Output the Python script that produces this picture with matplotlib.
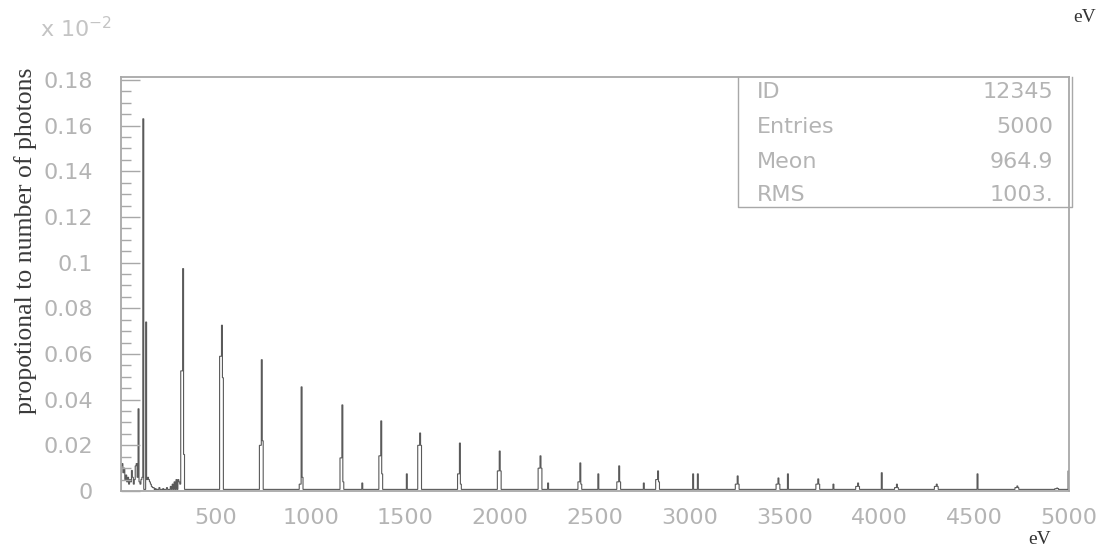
import numpy as np
import matplotlib.pyplot as plt
from matplotlib.ticker import MultipleLocator, FixedLocator, FuncFormatter

# Photon energy spectrum, 5 eV bins from 0 to 5000 eV
bin_width = 5
baseline = 0.0007

# low energy region, bin start energies and contents
low_ev = [0, 5, 10, 15, 20, 25, 30, 35, 40, 45, 50, 55, 60, 65, 70, 75, 80, 85, 95, 100, 105, 110]
low_val = [0.011, 0.012, 0.008, 0.010, 0.005, 0.007, 0.004, 0.006, 0.003, 0.005, 0.004, 0.009,
           0.006, 0.003, 0.005, 0.011, 0.012, 0.006, 0.004, 0.003, 0.005, 0.006]
tail_ev = [135, 140, 145, 150, 155, 160, 165, 170, 180, 200, 220, 240, 260, 270, 280, 290, 300, 305, 310]
tail_val = [0.005, 0.006, 0.005, 0.004, 0.003, 0.002, 0.0015, 0.0015, 0.001, 0.0015, 0.001,
            0.0015, 0.002, 0.003, 0.004, 0.005, 0.005, 0.004, 0.003]

# emission peaks: position, top bin, shoulder below and above
peak_ev = [327, 533, 744, 950, 1166, 1371, 1577, 1788, 1999, 2210, 2421, 2627, 2832,
           3254, 3465, 3676, 3887, 4093, 4304, 4726, 4937]
peak_top = [0.0974, 0.0726, 0.0575, 0.0456, 0.0377, 0.0307, 0.0254, 0.0210, 0.0175, 0.0154,
            0.0123, 0.0110, 0.0088, 0.0066, 0.0057, 0.0053, 0.0035, 0.0030, 0.0030, 0.0022, 0.0013]
peak_low = [0.0526, 0.0590, 0.0200, 0.0030, 0.0145, 0.0154, 0.0200, 0.0075, 0.0088, 0.0100,
            0.0040, 0.0040, 0.0050, 0.0030, 0.0030, 0.0030, 0.0020, 0.0015, 0.0020, 0.0015, 0.0010]
peak_high = [0.0160, 0.0496, 0.0220, 0.0060, 0.0040, 0.0075, 0.0200, 0.0030, 0.0088, 0.0100,
             0.0030, 0.0040, 0.0040, 0.0030, 0.0030, 0.0030, 0.0020, 0.0015, 0.0020, 0.0015, 0.0010]

# single-bin lines
spike_ev = [91, 116, 132, 1271, 1508, 2252, 2516, 2758, 3017, 3043, 3518, 3755, 4014, 4515, 4995]
spike_val = [0.036, 0.163, 0.074, 0.0035, 0.0075, 0.0035, 0.0075, 0.0035, 0.0075, 0.0075,
             0.0075, 0.0030, 0.0080, 0.0075, 0.0088]

stats_names = ['ID', 'Entries', 'Meon', 'RMS']
stats_values = ['12345', '5000', '964.9', '1003.']

edges = np.arange(0, 5000 + bin_width, bin_width)
counts = np.full(len(edges) - 1, baseline)
for e, v in zip(low_ev + tail_ev, low_val + tail_val):
    counts[e // bin_width] = v
for e, t, lo, hi in zip(peak_ev, peak_top, peak_low, peak_high):
    i = e // bin_width
    counts[i - 2:i] = lo
    counts[i] = t
    counts[i + 1] = hi
for e, v in zip(spike_ev, spike_val):
    counts[e // bin_width] = v

grey = '#b4b4b4'
frame = '#a8a8a8'

fig = plt.figure(figsize=(11.06, 5.49), dpi=100)
ax = fig.add_axes([121 / 1106, 58 / 549, 948 / 1106, 414 / 549])
ax.stairs(counts, edges, color='#5a5a5a', lw=0.8)

ax.set_xlim(0, 5000)
ax.set_ylim(0, 0.1813)
for s in ax.spines.values():
    s.set_color(frame)
    s.set_linewidth(1.3)

ax.xaxis.set_major_locator(FixedLocator([500, 1000, 1500, 2000, 2500, 3000, 3500, 4000, 4500, 5000]))
ax.yaxis.set_major_locator(MultipleLocator(0.02))
ax.yaxis.set_minor_locator(MultipleLocator(0.005))
ax.yaxis.set_major_formatter(FuncFormatter(lambda v, p: '0' if v == 0 else ('%g' % round(v, 2))))
ax.tick_params(axis='x', length=0, pad=12, labelsize=16, labelcolor=grey)
ax.tick_params(axis='y', which='major', direction='in', length=13.5, width=1.0, color=frame,
               pad=20, labelsize=16, labelcolor=grey)
ax.tick_params(axis='y', which='minor', direction='in', length=7, width=1.0, color=frame)

ax.set_ylabel('propotional to number of photons', family='Liberation Serif', fontsize=18.5,
              color='#3a3a3a')
ax.yaxis.set_label_coords(-0.089, 0.604)

# exponent and unit labels
fig.text(40 / 1106, 1 - 37 / 549, r'x 10$^{-2}$', fontsize=16, color='#c4c4c4', va='baseline')
fig.text(1085 / 1106, 1 - 18 / 549, 'eV', family='Liberation Serif', fontsize=14,
         color='#333333', ha='center', va='center')
fig.text(1040 / 1106, 1 - 540 / 549, 'eV', family='Liberation Serif', fontsize=14,
         color='#333333', ha='center', va='center')

# statistics box
box_x0, box_x1, box_y0 = 0.651, 1.003, 0.686
ax.plot([box_x0, box_x0, box_x1, box_x1], [1.0, box_y0, box_y0, 1.0], transform=ax.transAxes,
        color=frame, lw=1.0, clip_on=False)
rows_y = [0.964, 0.879, 0.795, 0.715]
for name, val, yy in zip(stats_names, stats_values, rows_y):
    ax.text(0.671, yy, name, transform=ax.transAxes, fontsize=16, color=grey, va='center')
    ax.text(0.983, yy, val, transform=ax.transAxes, fontsize=16, color=grey, va='center', ha='right')

fig.savefig('out.png', dpi=100)
